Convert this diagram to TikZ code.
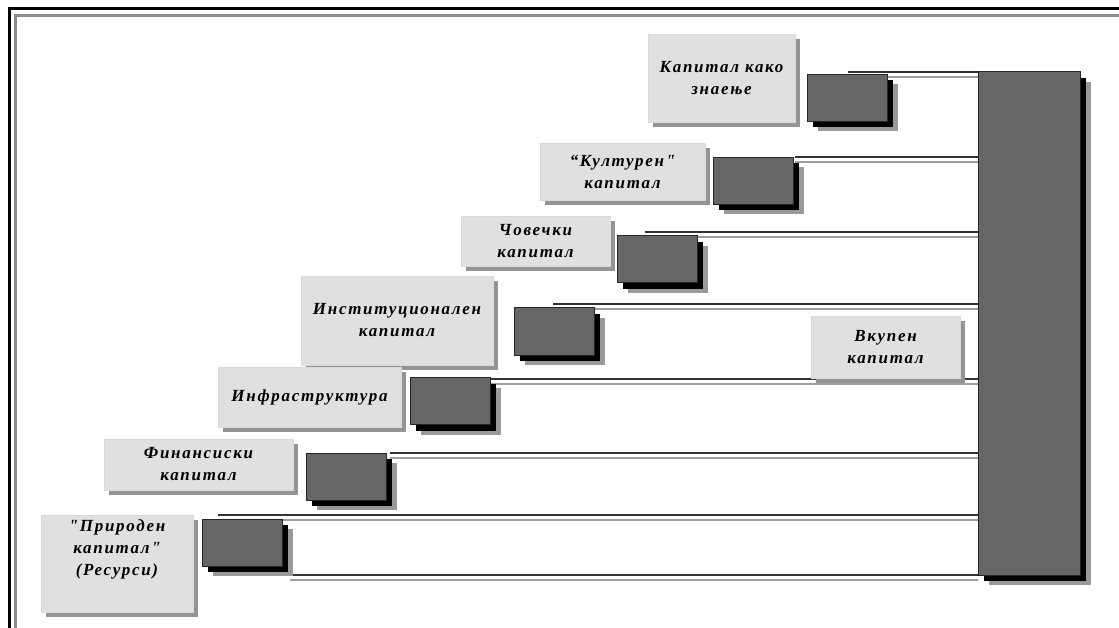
\documentclass[tikz,border=0pt]{standalone}
\usepackage{fontspec}
\setmainfont{Liberation Serif}[Script=Cyrillic,Language=Macedonian,LetterSpace=10,Ligatures=TeXOff]
\usepackage{tikz}
\usetikzlibrary{shadows}
\tikzset{
    frame line/.style={
        line width=3pt,
    },
    level line/.style={
        draw=black!80,
        line width=1.5pt,
    },
    level shadow/.style={
        draw=black!38,
        line width=1.5pt,
    },
    label box/.style={
        fill=black!12,
        draw=white!85!black,
        line width=0.8pt,
        inner sep=0,
        align=center,
        font=\bfseries\itshape\fontsize{17}{22}\selectfont,
        drop shadow={shadow xshift=5pt, shadow yshift=-5pt, fill=black!42, opacity=1},
    },
    value box/.style={
        fill=black!60,
        draw=black!85,
        line width=1pt,
        inner sep=0,
        minimum width=80,
        minimum height=47,
        drop shadow={shadow xshift=11pt, shadow yshift=-10pt, fill=black!40, opacity=1},
        drop shadow={shadow xshift=6pt, shadow yshift=-6pt, fill=black, opacity=1},
    },
}

\begin{document}
\begin{tikzpicture}[x=1pt, y=-1pt]

    \useasboundingbox (0,0) rectangle (1119,628);

    \draw[frame line, black] (1119,9) -- (9,9) -- (9,628);
    \draw[frame line, black!45] (1119,15.5) -- (15.5,15.5) -- (15.5,628);

    \node[value box, minimum width=102, minimum height=503] (total) at (1029,323.5) {};

    \foreach \i/\x/\y in {1/848/72, 2/795/157, 3/645/232, 4/553/304, 5/490/379, 6/390/453, 7/218/515, 8/290/575}
    {
        \coordinate (l\i) at (\x,\y);
        \coordinate (s\i) at (\x,\y+5);
        \draw[level shadow] (s\i) -- (s\i -| total.west);
        \draw[level line] (l\i) -- (l\i -| total.west);
    }

    \foreach \i/\x/\y in {1/847/98, 2/753/181, 3/657/259.5, 4/554/331.5, 5/450/401, 6/346/476.5, 7/242/542.5}
    {
        \node[value box] (v\i) at (\x,\y) {};
    }

    \node[label box, minimum width=147, minimum height=88] (knowledge) at (721.5,78) {Капитал како\\знаење};
    \node[label box, minimum width=165, minimum height=57] (cultural) at (622.5,171.5) {“Културен"\\капитал};
    \node[label box, minimum width=149, minimum height=50] (human) at (535.5,241) {Човечки\\капитал};
    \node[label box, minimum width=192, minimum height=89] (institutional) at (397,320.5) {Институционален\\капитал};
    \node[label box, minimum width=183, minimum height=60] (infrastructure) at (309.5,397) {Инфраструктура};
    \node[label box, minimum width=189, minimum height=51] (financial) at (198.5,464.5) {Финансиски\\капитал};
    \node[label box, minimum width=152, minimum height=97] (natural) at (117,563.5) {"Природен\\капитал"\\(Ресурси)\\[10pt]};
    \node[label box, minimum width=149, minimum height=62] (totallabel) at (885.5,347) {Вкупен\\капитал};

\end{tikzpicture}
\end{document}
